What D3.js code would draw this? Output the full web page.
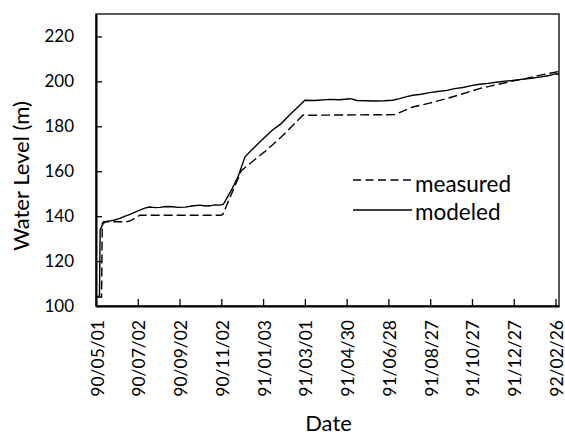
<!DOCTYPE html>
<html><head><meta charset="utf-8">
<script src="https://cdn.jsdelivr.net/npm/d3@7"></script>
<style>body{margin:0;background:#fff}text{font-family:Lato,"Open Sans",sans-serif;fill:#000}</style>
</head><body><svg id="c" width="565" height="435"></svg>
<script>
// record index (one label every 60 records) and water level (m)
const tickLabels = ["90/05/01","90/07/02","90/09/02","90/11/02","91/01/03","91/03/01","91/04/30","91/06/28","91/08/27","91/10/27","91/12/27","92/02/26"];
const recordsPerLabel = 60;
const totalRecords = 665;
const yTicks = [100,120,140,160,180,200,220];

const modeledIdx = [0,2,5,6,10,13,20,27,34,42,49,56,63,70,77,85,92,100,110,118,128,138,149,157,164,171,178,183,189,196,204,214,228,242,254,266,278,290,300,314,336,350,365,375,388,400,414,426,436,445,455,467,479,491,504,515,527,539,551,563,575,587,598,608,618,628,637,645,651,657,661,665];
const modeledVal = [104,104,104.5,134,136.5,137.5,137.9,138.3,139,140,140.8,141.8,142.7,143.6,144.1,143.8,143.9,144.3,144.2,143.9,144.0,144.5,144.9,144.5,144.6,145.0,144.9,145.3,148.6,152.5,157.5,166.4,170.8,175,178.5,181.2,185,188.6,191.6,191.5,192,191.8,192.3,191.5,191.4,191.3,191.4,191.6,192.3,193.1,193.8,194.3,195,195.5,196,196.8,197.3,198.1,198.7,199.1,199.6,200.1,200.4,200.8,201.2,201.5,201.9,202.3,202.6,203.1,203.4,203.2];

const measuredIdx = [0,8,9,11,44,50,63,178,182,209,242,266,297,429,455,479,503,527,551,575,598,618,637,652,665];
const measuredVal = [104,104,136.8,137.5,137.5,138,140.4,140.4,140.7,160.4,168.6,175.2,184.9,185.2,188.6,190.3,192.3,194.5,196.8,198.5,200.1,201.3,202.7,203.6,204.4];

const svg = d3.select("#c");
const L=96, R=559, T=14, B=306;
const x = d3.scaleLinear().domain([0,totalRecords]).range([L,R]);
const y = d3.scaleLinear().domain([100,230]).range([B,T]);

// plot frame
svg.append("rect").attr("x",L).attr("y",T).attr("width",R-L).attr("height",B-T)
  .attr("fill","none").attr("stroke","#000").attr("stroke-width",1.3);

// y axis
const yAxis = svg.append("g").attr("transform",`translate(${L},0)`)
  .call(d3.axisLeft(y).tickValues(yTicks).tickSizeInner(-6).tickSizeOuter(0).tickPadding(22));
yAxis.select(".domain").attr("stroke-width",2);
yAxis.selectAll("line").attr("stroke-width",1.3);
yAxis.selectAll("text").attr("font-size",17).attr("font-family","Lato");

// x axis
const xTickVals = tickLabels.map((d,i)=>i*recordsPerLabel);
const xAxis = svg.append("g").attr("transform",`translate(0,${B})`)
  .call(d3.axisBottom(x).tickValues(xTickVals).tickFormat((d,i)=>tickLabels[i]).tickSizeInner(-7).tickSizeOuter(0));
xAxis.select(".domain").attr("stroke-width",2);
xAxis.selectAll("line").attr("stroke-width",1.3);
xAxis.selectAll("text").attr("font-size",17.5).attr("font-family","Lato")
  .attr("text-anchor","end").attr("dy",null).attr("y",null)
  .attr("transform","translate(7,14) rotate(-90)");

// lines
const line = d3.line().x(d=>x(d[0])).y(d=>y(d[1]));
const measured = measuredIdx.map((d,i)=>[d,measuredVal[i]]);
const modeled = modeledIdx.map((d,i)=>[d,modeledVal[i]]);
svg.append("path").datum(measured).attr("d",line).attr("fill","none")
  .attr("stroke","#000").attr("stroke-width",1.4).attr("stroke-dasharray","9,4");
svg.append("path").datum(modeled).attr("d",line).attr("fill","none")
  .attr("stroke","#000").attr("stroke-width",1.4);

// legend
const lg = svg.append("g");
lg.append("line").attr("x1",353).attr("x2",412).attr("y1",180).attr("y2",180)
  .attr("stroke","#000").attr("stroke-width",1.4).attr("stroke-dasharray","8,4.5");
lg.append("text").attr("x",415).attr("y",191.5).attr("font-size",22.5).text("measured");
lg.append("line").attr("x1",353).attr("x2",412).attr("y1",210).attr("y2",210)
  .attr("stroke","#000").attr("stroke-width",1.4);
lg.append("text").attr("x",415).attr("y",220).attr("font-size",22.5).text("modeled");

// axis titles
svg.append("text").attr("x",(L+R)/2+1).attr("y",431).attr("text-anchor","middle")
  .attr("font-size",22).text("Date");
svg.append("text").attr("transform","translate(29,176) rotate(-90)").attr("text-anchor","middle")
  .attr("font-size",22).text("Water Level (m)");
</script></body></html>
